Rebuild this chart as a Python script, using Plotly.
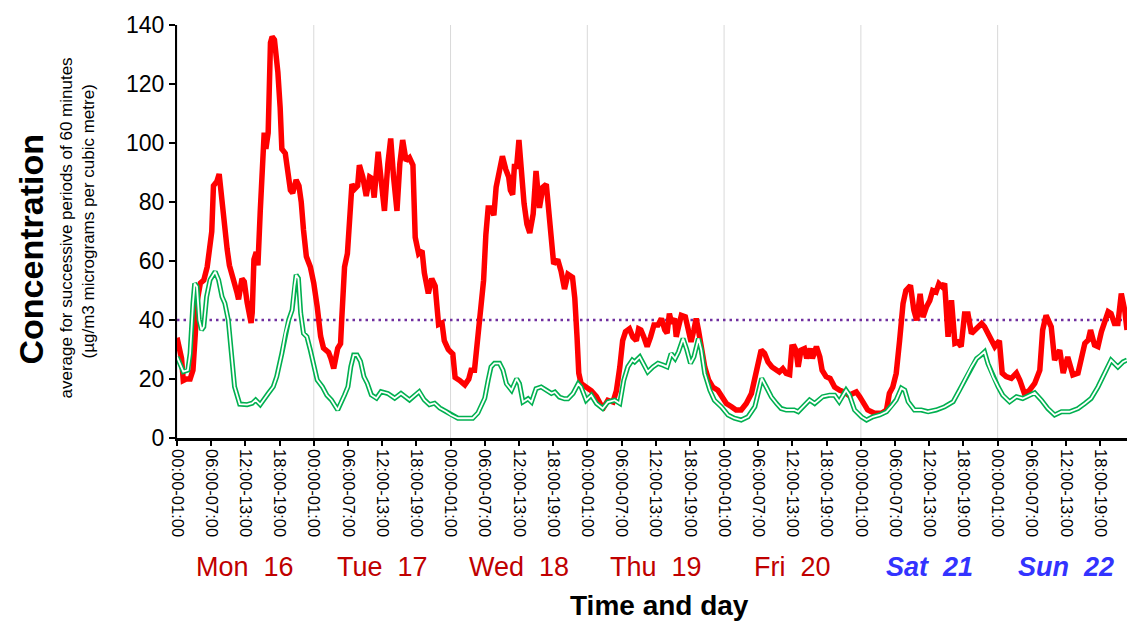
import plotly.graph_objects as go

# ---- data (hour since Mon 00:00, concentration) ----
red_points = [
    (0.0, 34), (0.5, 30), (0.8, 27), (1.1, 19.5), (1.6, 20), (2.3, 20), (2.8, 23), (3.2, 35),
    (3.5, 46), (4.1, 52.5), (4.7, 53.5), (5.3, 58), (5.8, 67), (6.1, 70), (6.4, 85.5), (7.0, 87),
    (7.4, 89.5), (7.7, 83.5), (8.1, 79), (8.4, 70), (8.8, 64), (9.2, 58.5), (9.6, 55), (10.0, 53),
    (10.5, 49.5), (10.8, 47), (11.4, 54), (11.8, 53), (12.3, 46), (12.7, 40), (13.0, 39), (13.2, 42.5),
    (13.5, 60.5), (13.9, 63), (14.2, 58.5), (14.6, 76.5), (15.0, 92), (15.3, 103.5), (15.6, 98),
    (16.0, 103.5), (16.4, 134), (16.7, 136), (17.1, 135), (17.4, 131), (17.7, 124), (18.1, 112),
    (18.4, 98), (19.0, 96.5), (19.5, 91), (19.9, 84), (20.3, 83), (20.9, 87.5), (21.4, 85.5),
    (21.8, 80), (22.2, 70.5), (22.7, 61.5), (23.4, 58), (24.0, 52.5), (24.6, 44.5), (25.2, 34.5),
    (25.7, 30.5), (26.6, 29), (27.0, 27), (27.5, 23.6), (28.2, 30.4), (28.7, 32), (28.9, 40),
    (29.4, 58), (29.9, 62.5), (30.3, 78), (30.7, 86), (31.2, 84.5), (31.7, 85.5), (32.0, 92.5),
    (32.6, 88.5), (33.2, 82), (33.8, 88.5), (34.2, 88), (34.6, 81.5), (35.3, 97), (35.8, 88.5),
    (36.4, 77), (37.0, 93), (37.5, 101.5), (38.0, 88.5), (38.6, 77), (39.1, 93), (39.6, 101),
    (40.2, 94), (40.8, 95), (41.4, 92.5), (41.8, 68), (42.4, 62.5), (43.0, 63.5), (43.4, 56),
    (44.1, 49), (44.7, 54), (45.3, 51.5), (45.9, 38.5), (46.5, 39), (46.9, 33), (47.6, 30),
    (48.4, 28.5), (48.8, 20.5), (49.6, 19.5), (50.5, 18), (51.2, 20), (51.6, 23), (52.2, 23),
    (52.8, 35.5), (53.4, 45), (53.8, 53.5), (54.2, 69), (54.6, 78), (55.1, 78), (55.6, 75.5),
    (56.0, 85), (56.5, 91), (57.1, 95.5), (57.7, 91), (58.2, 88.5), (58.5, 84), (58.9, 82.5),
    (59.2, 92), (59.6, 92), (60.0, 101), (60.4, 90.5), (60.9, 79.5), (61.4, 72.5), (61.9, 69.5),
    (62.5, 76), (63.0, 90.5), (63.6, 78), (64.2, 85), (64.8, 86), (65.3, 73.5), (65.7, 64.5),
    (66.1, 59), (66.8, 60.5), (67.4, 56.5), (68.0, 50.5), (68.6, 55.5), (69.4, 54.5), (69.8, 47.5),
    (70.2, 34), (70.5, 22), (70.9, 18.5), (71.8, 17.5), (72.7, 16), (73.6, 14), (74.3, 11.5),
    (74.9, 10.5), (75.6, 12.8), (76.5, 12.2), (77.1, 16), (77.7, 24), (78.2, 33), (78.7, 36),
    (79.4, 37), (80.0, 34.2), (80.6, 33), (81.0, 37), (81.4, 36.6), (81.9, 34.3), (82.5, 31),
    (83.1, 34.3), (83.7, 38.3), (84.4, 38.3), (85.0, 40.5), (85.6, 36.6), (86.0, 35.5), (86.4, 42.2),
    (86.8, 38.9), (87.3, 40.5), (87.6, 34.3), (88.0, 37.7), (88.5, 41.6), (89.2, 41.1), (89.7, 36.6),
    (90.2, 32.6), (90.7, 36.6), (91.1, 40.5), (91.5, 36.6), (92.0, 29.8), (92.6, 24.1), (93.3, 19.6),
    (94.0, 17.3), (94.9, 16.2), (95.6, 14), (96.4, 11.7), (97.3, 10.6), (98.1, 9.5), (99.0, 9.5),
    (99.9, 11.7), (100.8, 15.1), (101.5, 20.8), (102.1, 26.4), (102.5, 29.8), (103.1, 28.7),
    (103.7, 25.8), (104.4, 24.1), (105.2, 23), (105.7, 22.4), (106.3, 23.5), (106.9, 21.9),
    (107.5, 21.5), (107.9, 30.9), (108.3, 31), (108.6, 29.8), (109.0, 24.1), (109.5, 29.8),
    (110.1, 30.3), (110.5, 27), (111.1, 30.3), (111.5, 27), (112.2, 31), (112.8, 27.5), (113.2, 23),
    (113.9, 20.8), (114.6, 20.2), (115.4, 17.3), (116.3, 16.2), (117.1, 15.6), (117.9, 14.5),
    (118.6, 15.1), (119.2, 15.6), (119.8, 14), (120.4, 11.7), (121.2, 9.5), (122.4, 8.4),
    (123.6, 8.4), (124.5, 9.5), (125.0, 15.1), (125.6, 17.3), (126.2, 21.9), (126.8, 33.1),
    (127.4, 45.5), (127.9, 50), (128.7, 51.7), (129.3, 43.3), (129.8, 39.9), (130.4, 48.9),
    (130.9, 41), (131.5, 44.4), (132.1, 46.6), (132.6, 50), (133.2, 49.5), (133.7, 52.3),
    (134.3, 51.2), (134.7, 52.4), (135.3, 34.3), (135.9, 46.7), (136.5, 32.1), (137.0, 32.5),
    (137.6, 31), (138.2, 42), (138.8, 42), (139.4, 35.4), (140.0, 36.6), (140.5, 37.7),
    (141.2, 38.8), (141.7, 37.7), (142.6, 34.3), (143.5, 31), (144.3, 33), (144.8, 22),
    (145.5, 20.8), (146.4, 20.2), (147.3, 22), (147.9, 19.6), (148.7, 15.1), (149.6, 16.2),
    (150.5, 18.5), (151.4, 23), (151.9, 36.6), (152.5, 41.6), (153.4, 37.7), (154.0, 26.4),
    (154.9, 29.8), (155.5, 22), (156.3, 27.5), (157.2, 21.4), (158.1, 22), (158.7, 27),
    (159.3, 32.1), (159.9, 33.2), (160.3, 36.6), (161.0, 31.5), (161.6, 31), (162.2, 36),
    (162.8, 38.8), (163.4, 42.8), (163.9, 42.2), (164.5, 38.8), (165.1, 38.8), (165.7, 49),
    (166.3, 43.3), (166.7, 36.6),
]

green_points = [
    (0.0, 27.5), (0.3, 26), (1.1, 22.5), (1.9, 23), (2.3, 28.7), (2.8, 45.6), (3.1, 52.4),
    (3.5, 51.3), (3.9, 40), (4.3, 36.6), (4.7, 37.7), (5.2, 47.9), (5.8, 53.6), (6.7, 56.4),
    (7.3, 53.6), (7.9, 47.9), (8.4, 45.7), (9.0, 40), (9.5, 28.7), (10.1, 17.4), (11.0, 11.5),
    (12.3, 11.3), (13.2, 11.8), (13.8, 12.9), (14.6, 11.3), (15.5, 14), (16.0, 15.1), (16.9, 17.4),
    (17.5, 20.8), (18.4, 28.7), (19.0, 35.5), (19.6, 40), (20.2, 43.4), (20.6, 51.3), (20.9, 55.3),
    (21.3, 54.1), (21.7, 42.3), (22.2, 35.5), (22.8, 34.3), (23.4, 29.8), (24.0, 24.2), (24.6, 19.7),
    (25.5, 17.4), (25.9, 15.7), (26.3, 14.5), (27.1, 12.9), (28.2, 9.5), (29.4, 14.6), (30.0, 17.4),
    (30.5, 24.2), (31.0, 28.1), (31.6, 28.1), (32.2, 26), (32.8, 20.8), (33.4, 18.5), (34.1, 14.6),
    (35.0, 13.5), (35.8, 15.7), (37.0, 15.1), (38.2, 13.5), (39.3, 15.1), (40.8, 12.9), (42.5, 15.7),
    (43.4, 12.9), (44.3, 11.3), (45.2, 11.8), (46.1, 10.2), (47.2, 9), (48.1, 7.8), (49.3, 6.7),
    (50.5, 6.7), (51.9, 6.7), (52.8, 8.5), (53.4, 11), (54.0, 13.5), (54.6, 19.6), (55.1, 24.1),
    (55.7, 25.3), (56.6, 25.3), (57.2, 23), (57.8, 18.4), (58.7, 16.2), (59.2, 18.4), (59.6, 20.1),
    (60.1, 18.4), (60.7, 12.2), (61.6, 13.3), (62.2, 12.2), (63.0, 16.7), (63.9, 17.3), (64.8, 16.2),
    (65.7, 15.1), (66.3, 15.6), (67.1, 13.9), (68.0, 13.3), (68.6, 13.3), (69.5, 15.1), (70.4, 18.4),
    (70.9, 17.3), (71.8, 12.8), (72.7, 14.5), (73.6, 11.7), (74.7, 10), (75.6, 12.2), (76.8, 12.8),
    (77.7, 11.7), (78.4, 19.6), (79.1, 24.1), (79.9, 26.4), (80.3, 25.8), (81.2, 27.5), (81.8, 25.3),
    (82.6, 22.4), (83.5, 24.1), (84.4, 25.3), (85.3, 24.7), (86.0, 24.1), (86.7, 28.6), (87.4, 26.9),
    (88.0, 29.2), (88.8, 33.7), (89.4, 30.3), (90.1, 25.3), (90.7, 27.5), (91.5, 33.7), (92.0, 29.8),
    (92.6, 21.9), (93.5, 16.2), (94.3, 12.8), (95.5, 10.6), (96.7, 7.8), (97.8, 6.7), (99.0, 6.1),
    (100.2, 7.2), (101.4, 10.6), (102.1, 16.2), (102.6, 20.2), (103.4, 17.3), (104.3, 13.9),
    (105.2, 11.7), (106.0, 10), (106.9, 9.5), (107.5, 9.5), (108.3, 9.5), (109.0, 8.9), (110.1, 11.2),
    (111.0, 12.9), (111.9, 11.7), (113.3, 14), (114.5, 14.5), (115.4, 14.5), (116.2, 12.3),
    (116.7, 14), (117.4, 16.2), (118.0, 14.5), (118.9, 9.5), (120.1, 7.2), (121.0, 6.1),
    (122.1, 7.2), (123.3, 7.8), (124.5, 8.9), (125.3, 10.6), (126.2, 12.9), (127.1, 16.9),
    (127.7, 16.2), (128.3, 12.3), (129.4, 9.5), (130.6, 9.5), (131.8, 8.9), (133.2, 9.5),
    (134.7, 10.6), (136.2, 12.3), (137.3, 16.2), (138.2, 19.6), (139.4, 24.1), (140.3, 26.9),
    (141.1, 28.1), (141.7, 29.2), (142.3, 25.2), (143.2, 20.7), (144.1, 17.3), (144.9, 14.5),
    (146.1, 12.3), (147.3, 14), (148.4, 13.4), (149.6, 14.5), (150.5, 15.3), (151.7, 12.8),
    (152.8, 10), (154.0, 7.8), (155.2, 8.9), (156.6, 8.9), (158.1, 10), (159.3, 11.7), (160.4, 13.4),
    (161.6, 17.3), (162.8, 21.9), (163.9, 26.4), (165.1, 24.1), (166.0, 25.8), (166.7, 26.4),
]

limit_value = 40
x_end = 166.7

tick_hours = list(range(0, 163, 6))
tick_labels = ["00:00-01:00", "06:00-07:00", "12:00-13:00", "18:00-19:00"]
day_names = ["Mon  16", "Tue  17", "Wed  18", "Thu  19", "Fri  20", "Sat  21", "Sun  22"]
weekend = [False, False, False, False, False, True, True]

red_h = [p[0] for p in red_points]
red_v = [p[1] for p in red_points]
green_h = [p[0] for p in green_points]
green_v = [p[1] for p in green_points]

FONT = "Liberation Sans, Arial, sans-serif"

fig = go.Figure()
fig.add_trace(go.Scatter(x=[0, x_end], y=[limit_value, limit_value], mode="lines",
                         line=dict(color="#7030a0", width=2.6, dash="2.5px,4px"), hoverinfo="skip"))
fig.add_trace(go.Scatter(x=red_h, y=red_v, mode="lines",
                         line=dict(color="#ff0000", width=5.5)))
fig.add_trace(go.Scatter(x=green_h, y=green_v, mode="lines",
                         line=dict(color="#00b050", width=5)))
fig.add_trace(go.Scatter(x=green_h, y=green_v, mode="lines",
                         line=dict(color="#ffffff", width=1.8)))

shapes = []
for i in range(len(day_names)):
    shapes.append(dict(type="line", xref="x", yref="paper", x0=24 * i, x1=24 * i, y0=0, y1=1,
                       line=dict(color="#d9d9d9", width=1), layer="below"))

annotations = []
for i, name in enumerate(day_names):
    if weekend[i]:
        txt = "<b><i>" + name + "</i></b>"
        col = "#3333ff"
    else:
        txt = name
        col = "#c00000"
    annotations.append(dict(x=24 * i + 12, y=-0.312, xref="x", yref="paper", text=txt,
                            showarrow=False, xanchor="center", yanchor="middle",
                            font=dict(family=FONT, size=27, color=col)))

annotations.append(dict(x=0.508, y=-0.405, xref="paper", yref="paper", text="<b>Time and day</b>",
                        showarrow=False, xanchor="center", yanchor="middle",
                        font=dict(family=FONT, size=28, color="#000000")))
annotations.append(dict(x=0, y=0.5, xref="paper", yref="paper", xshift=-147, yshift=-18,
                        text="<b>Concentration</b>", textangle=-90, showarrow=False,
                        xanchor="center", yanchor="middle",
                        font=dict(family=FONT, size=34, color="#000000")))
annotations.append(dict(x=0, y=0.5, xref="paper", yref="paper", xshift=-111, yshift=3,
                        text="average for successive periods of 60 minutes", textangle=-90,
                        showarrow=False, xanchor="center", yanchor="middle",
                        font=dict(family=FONT, size=17, color="#000000")))
annotations.append(dict(x=0, y=0.5, xref="paper", yref="paper", xshift=-89, yshift=10,
                        text="(µg/m3 micrograms per cubic metre)", textangle=-90,
                        showarrow=False, xanchor="center", yanchor="middle",
                        font=dict(family=FONT, size=17, color="#000000")))

fig.update_layout(
    width=1127, height=621,
    margin=dict(l=177, r=0, t=25, b=183),
    paper_bgcolor="white", plot_bgcolor="white",
    showlegend=False,
    shapes=shapes, annotations=annotations,
    xaxis=dict(range=[0, x_end], tickmode="array", tickvals=tick_hours,
               ticktext=[tick_labels[(h // 6) % 4] for h in tick_hours],
               tickangle=90, ticks="outside", ticklen=5, tickwidth=1.5, tickcolor="#000",
               showline=True, linecolor="#000", linewidth=2.5, showgrid=False, zeroline=False,
               tickfont=dict(family=FONT, size=16.5, color="#000")),
    yaxis=dict(range=[0, 140], dtick=20, ticks="outside", ticklen=6, tickwidth=1.5,
               tickcolor="#000", showline=True, linecolor="#000", linewidth=2,
               showgrid=False, zeroline=False,
               tickfont=dict(family=FONT, size=23, color="#000")),
)

fig.write_html("out.html", config={"displayModeBar": False},
               post_script="document.body.style.margin='0px';")
